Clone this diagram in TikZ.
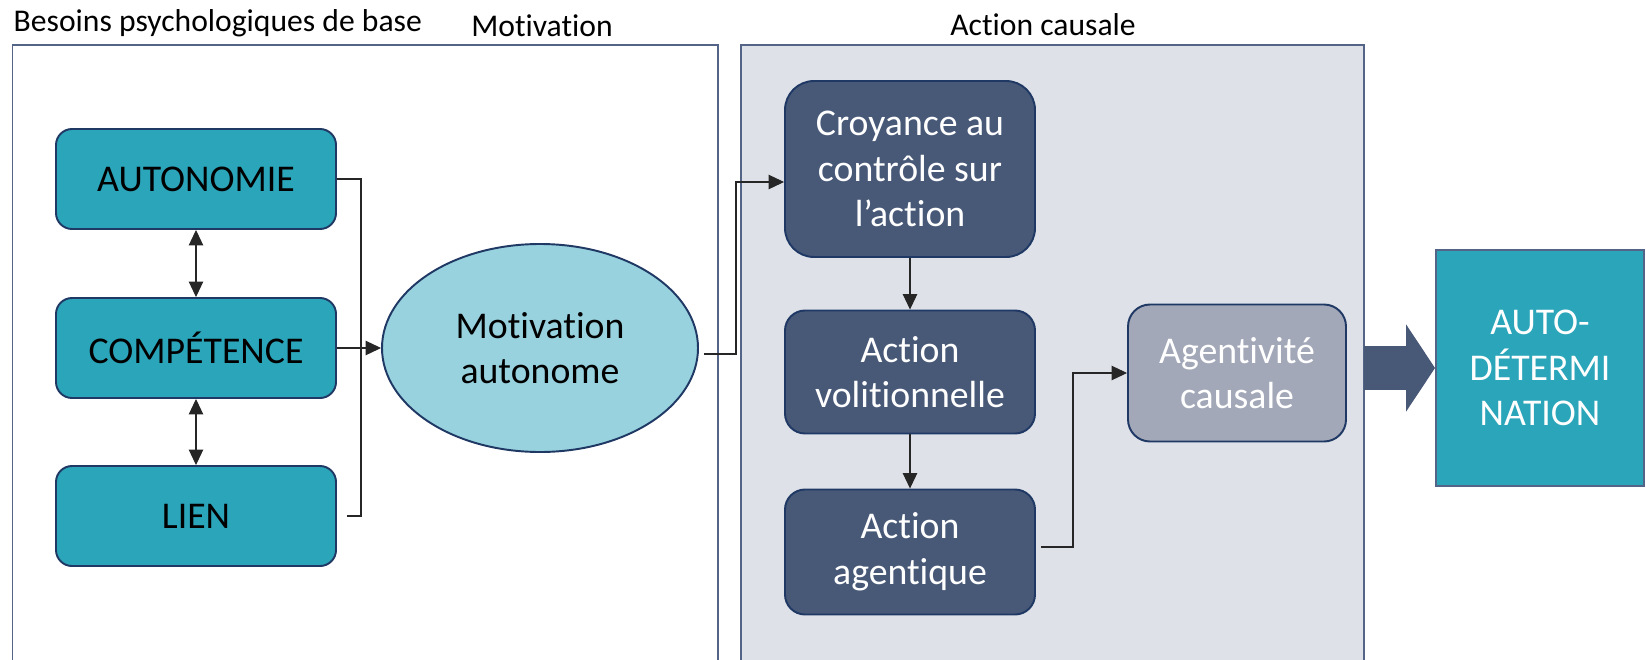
\documentclass[tikz,border=0pt]{standalone}
\usepackage{fontspec}
\setmainfont{Carlito}[Ligatures=NoCommon]
\usetikzlibrary{positioning, arrows.meta, shapes.geometric}

\definecolor{besoin}{RGB}{43,165,186}
\definecolor{navy}{RGB}{31,56,100}
\definecolor{motivfill}{RGB}{151,210,222}
\definecolor{slate}{RGB}{72,89,120}
\definecolor{agtvfill}{RGB}{162,168,184}
\definecolor{panelfill}{RGB}{222,226,232}
\definecolor{paneldraw}{RGB}{84,100,134}

\begin{document}
\begin{tikzpicture}[
    need/.style={draw=navy, line width=1.1pt, rounded corners=#1, fill=besoin,
                 font=\fontsize{21.5}{26}\selectfont, align=center,
                 minimum width=5.6cm, minimum height=2cm, inner sep=2pt},
    need/.default={0.32cm},
    act/.style={draw=navy, line width=1.1pt, rounded corners=#1, fill=slate,
                text=white, font=\fontsize{21.5}{26}\selectfont, align=center,
                minimum width=5cm, inner sep=2pt},
    act/.default={0.4cm},
    link/.style={draw=black!85, line width=0.6pt},
    arrow/.style={link, -{Triangle[length=0.31cm, width=0.29cm]}},
    dbl/.style={link, {Triangle[length=0.31cm, width=0.29cm]}-{Triangle[length=0.31cm, width=0.29cm]}},
    title/.style={font=\fontsize{18}{21}\selectfont}
]
\useasboundingbox (0,0) rectangle (32.92,13.18);

% ---- Panels ----
\draw[draw=paneldraw, line width=1.1pt] (0.25,-0.1) rectangle (14.36,12.28);
\draw[draw=paneldraw, line width=1.1pt, fill=panelfill] (14.82,-0.1) rectangle (27.28,12.28);
\node[title, anchor=west] (tbes) at (0.15,12.72) {Besoins psychologiques de base};
\node[title] (tmot) at (10.84,12.66) {Motivation};
\node[title] (tact) at (20.86,12.68) {Action causale};
\coordinate (causalE) at (27.28,5.8);

% ---- Besoins ----
\node[need] (auto) at (3.92,9.6)  {AUTONOMIE};
\node[need] (comp) at (3.92,6.22) {COMPÉTENCE};
\node[need] (lien) at (3.92,2.86) {LIEN};
\draw[dbl] (auto.south) -- (comp.north);
\draw[dbl] (comp.south) -- (lien.north);

% ---- Motivation ----
\node[ellipse, draw=navy, line width=1.1pt, fill=motivfill, align=center,
      font=\fontsize{21.5}{26}\selectfont, minimum width=6.32cm,
      minimum height=4.16cm, inner sep=0pt] (motiv) at (10.8,6.22)
      {Motivation\\autonome};
\coordinate (bus) at (7.22,6.22);
\draw[link] (auto.east) -| (bus);
\draw[link] ([xshift=0.2cm]lien.east) -| (bus);
\draw[arrow] (comp.east) -- (motiv.west);

% ---- Action causale ----
\node[act=0.58cm, minimum height=3.52cm] (croy) at (18.2,9.8)
      {Croyance au\\contrôle sur\\l’action};
\node[act, minimum height=2.46cm] (voli) at (18.2,5.74)
      {Action\\volitionnelle};
\node[act, minimum height=2.5cm] (agent) at (18.2,2.14)
      {Action\\agentique};
\node[act=0.44cm, fill=agtvfill, minimum width=4.36cm, minimum height=2.74cm]
      (agtv) at (24.74,5.72) {Agentivité\\causale};
\draw[arrow] ([shift={(0.1,-0.12)}]motiv.east) -- ++(0.64,0)
      |- ([yshift=-0.26cm]croy.west);
\draw[arrow] (croy.south) -- (voli.north);
\draw[arrow] (voli.south) -- (agent.north);
\draw[arrow] ([shift={(0.1,0.1)}]agent.east) -- ++(0.64,0) |- (agtv.west);

% ---- Auto-determination ----
\node[draw=paneldraw, line width=1.1pt, fill=besoin, text=white, align=center,
      font=\fontsize{21.5}{26}\selectfont, minimum width=4.16cm,
      minimum height=4.72cm] (autodet) at (30.8,5.82)
      {AUTO-\\DÉTERMI\\NATION};
\draw[slate, line width=0.88cm, -{Triangle[length=0.58cm, width=1.72cm]}]
      (autodet.west -| causalE) -- (autodet.west);

\end{tikzpicture}
\end{document}
